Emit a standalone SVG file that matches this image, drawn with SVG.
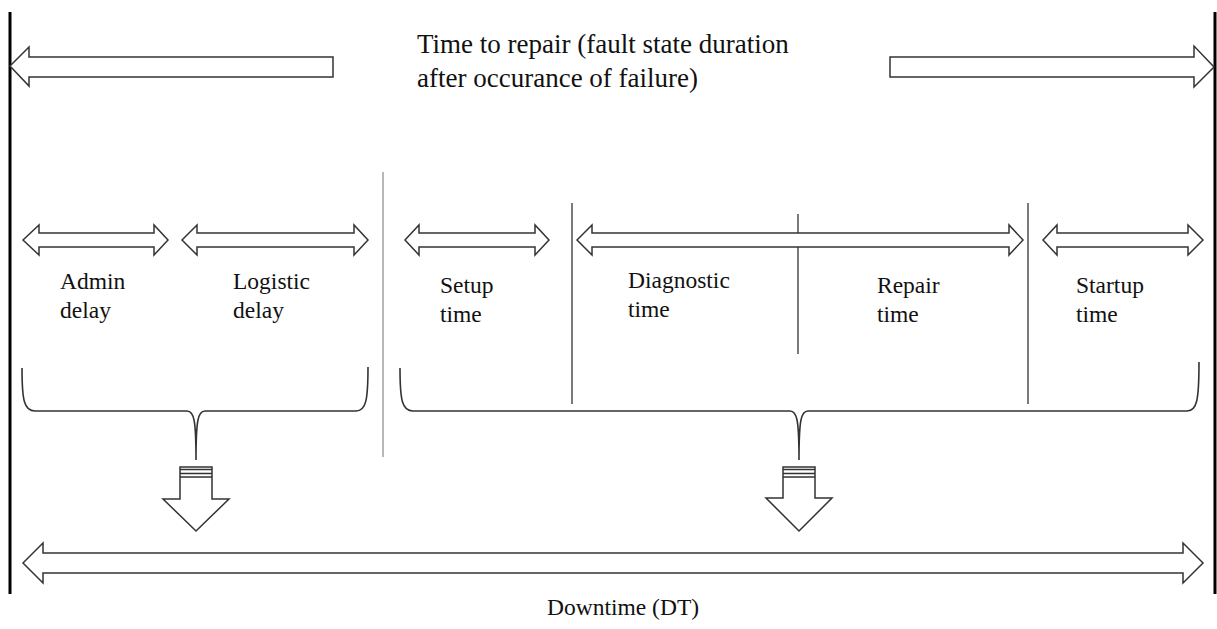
<svg xmlns="http://www.w3.org/2000/svg" width="1217" height="629" viewBox="0 0 1217 629">
<style>
.t{font-family:"Liberation Serif","Times New Roman",serif;fill:#111}
.big{font-size:27px}
.lab{font-size:23.5px}
.arr{fill:#fff;stroke:#333;stroke-width:1.5;stroke-linejoin:miter}
.brace{fill:none;stroke:#333;stroke-width:1.6}
.div{stroke:#222;stroke-width:1.2}
.bar{stroke:#000;stroke-width:3}
</style>
<rect width="1217" height="629" fill="#fff"/>
<g id="bounds">
<line class="bar" x1="10" y1="12" x2="10" y2="594"/>
<line class="bar" x1="1215" y1="12" x2="1215" y2="594"/>
</g>
<g id="dividers">
<line class="div" x1="383" y1="172" x2="383" y2="457" style="stroke:#888"/>
<line class="div" x1="572" y1="203" x2="572" y2="404"/>
<line class="div" x1="798" y1="214" x2="798" y2="354"/>
<line class="div" x1="1028" y1="203" x2="1028" y2="404"/>
</g>
<g id="time-to-repair">
<path class="arr" d="M10,66 L29,47 L29,57 L333,57 L333,77 L29,77 L29,86 Z"/>
<path class="arr" d="M890,57 L1194,57 L1194,46 L1214,67 L1194,87 L1194,77 L890,77 Z"/>
<text class="t big" x="417" y="53">Time to repair (fault state duration</text>
<text class="t big" x="417" y="87">after occurance of failure)</text>
</g>
<g id="admin-delay">
<path class="arr" d="M23,240 L39,225 L39,233 L154,233 L154,225 L168,240 L154,255 L154,247 L39,247 L39,255 Z"/>
<text class="t lab" x="60" y="289">Admin</text>
<text class="t lab" x="60" y="318">delay</text>
</g>
<g id="logistic-delay">
<path class="arr" d="M182,240 L197,225 L197,233 L354,233 L354,225 L368,240 L354,255 L354,247 L197,247 L197,255 Z"/>
<text class="t lab" x="233" y="289">Logistic</text>
<text class="t lab" x="233" y="318">delay</text>
</g>
<g id="setup-time">
<path class="arr" d="M405,240 L419,225 L419,233 L535,233 L535,225 L549,240 L535,255 L535,247 L419,247 L419,255 Z"/>
<text class="t lab" x="440" y="293">Setup</text>
<text class="t lab" x="440" y="322">time</text>
</g>
<g id="diagnostic-repair">
<path class="arr" d="M577,240 L592,225 L592,233 L1009,233 L1009,225 L1023,240 L1009,255 L1009,247 L592,247 L592,255 Z"/>
</g>
<g id="diagnostic-time">
<text class="t lab" x="628" y="288">Diagnostic</text>
<text class="t lab" x="628" y="317">time</text>
</g>
<g id="repair-time">
<text class="t lab" x="877" y="293">Repair</text>
<text class="t lab" x="877" y="322">time</text>
</g>
<g id="startup-time">
<path class="arr" d="M1043,240 L1057,225 L1057,233 L1188,233 L1188,225 L1203,240 L1188,255 L1188,247 L1057,247 L1057,255 Z"/>
<text class="t lab" x="1076" y="293">Startup</text>
<text class="t lab" x="1076" y="322">time</text>
</g>
<g id="connectors">
<path class="brace" d="M22,368 C22,400 24,411 35,411 L187,411 C194,411 196,420 196,460 M205,411 C198,411 196,420 196,460 M205,411 L356,411 C366,411 368,400 368,367"/>
<path class="brace" d="M400,368 C400,400 402,411 413,411 L790,411 C797,411 799,420 799,460 M808,411 C801,411 799,420 799,460 M808,411 L1187,411 C1197,411 1199,400 1199,362"/>
<g id="down-left">
<path class="arr" d="M180,467 L212,467 L212,499 L229,499 L196,531 L163,499 L180,499 Z"/>
<path d="M180,469.5 H212 M180,473.5 H212 M180,477 H212" stroke="#333" stroke-width="1.5"/>
</g>
<g id="down-right">
<path class="arr" d="M783,467 L815,467 L815,498 L832,498 L799,531 L766,498 L783,498 Z"/>
<path d="M783,469.5 H815 M783,473.5 H815 M783,477 H815" stroke="#333" stroke-width="1.5"/>
</g>
</g>
<g id="downtime">
<path class="arr" d="M23,563 L43,543 L43,553 L1183,553 L1183,543 L1203,563 L1183,583 L1183,573 L43,573 L43,583 Z"/>
<text class="t lab" x="547" y="615">Downtime (DT)</text>
</g>
</svg>
